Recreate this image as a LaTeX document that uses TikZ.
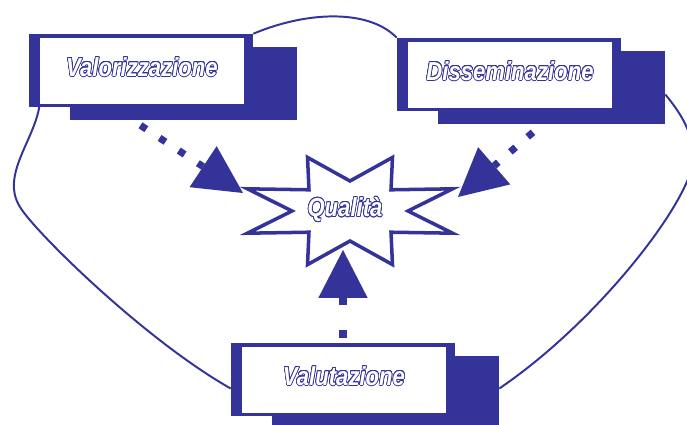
\documentclass[tikz,border=0pt]{standalone}
\usepackage{fontspec}
\setmainfont{Liberation Sans}
\usepackage{graphicx}
\usepackage{contour}
\contourlength{0.6pt}
\usepackage{tikz}
\usetikzlibrary{arrows.meta,calc,backgrounds}

\definecolor{qblue}{RGB}{51,51,153}
\newcommand{\hollow}[1]{\scalebox{0.85}[1]{\contour{qblue}{\textcolor{white}{#1}}}}

\begin{document}
\begin{tikzpicture}[
  x=0.025cm, y=-0.025cm,
  lbl/.style       = {font=\fontsize{18.5}{20}\selectfont\bfseries\itshape},
  shadowbox/.style = {rectangle, fill=qblue, inner sep=0pt,
                      minimum width=5.675cm, minimum height=1.825cm},
  framebox/.style  = {rectangle, fill=qblue, inner sep=0pt,
                      minimum width=5.6cm, minimum height=1.825cm},
  textbox/.style   = {rectangle, fill=white, inner sep=0pt, lbl, text depth=6pt,
                      minimum width=5.1cm, minimum height=1.65cm},
  link/.style      = {draw=qblue, line width=1.4pt},
  dotarr/.style    = {draw=qblue, line width=5pt, dash pattern=on 5pt off 11.3pt,
                      -{Triangle[length=34pt,width=35pt,line width=0pt]}},
  starline/.style  = {draw=qblue, line width=2.5pt, fill=white, line join=miter}
]
\useasboundingbox (0,0) rectangle (687,424);

%% Boxes
\node[shadowbox] (valS) at (183.5,83.5) {};
\node[framebox]  (valF) at (141,70.5)   {};
\node[textbox]   (valT) at (142,71)     {\hollow{Valorizzazione}};

\node[shadowbox] (disS) at (551.5,87.5) {};
\node[framebox]  (disF) at (509,74.5)   {};
\node[textbox]   (disT) at (510,75)     {\hollow{Disseminazione}};

\node[shadowbox] (vtS) at (385.5,392.5) {};
\node[framebox]  (vtF) at (343,379.5)   {};
\node[textbox]   (vtT) at (344,380)     {\hollow{Valutazione}\hspace{12pt}};

%% Star
\coordinate (qc) at (350,211);
\begin{scope}[shift={(qc)}]
  \draw[starline] (22.5:111 and 58)
    \foreach \a in {45,90,...,360} { -- (\a:58 and 30) -- (\a+22.5:111 and 58) } -- cycle;
\end{scope}
\node[lbl] (qual) at (345,210) {\hollow{Qualità}};

%% Dotted arrows
\coordinate (hitL) at (243,193);
\coordinate (hitR) at (458,197);
\coordinate (hitB) at (343,250);
\draw[dotarr] ([shift={(-43,5)}]valS.south) -- (hitL);
\draw[dotarr] ([shift={(-18.5,8)}]disS.south) -- (hitR);
\draw[dotarr, dash pattern=on 5.7pt off 17.7pt, dash phase=19.8pt] (vtF.north) -- (hitB);

%% Outline curves
\begin{scope}[on background layer]
  \draw[link] (valF.north east) .. controls (310,10) and (370,10) .. (disF.north west);
  \draw[link] (valT.south west) .. controls (35,140) and (0,175) .. (20,207)
              .. controls (35,232) and (145,340) .. ([shift={(0,9)}]vtF.west);
  \draw[link] ([shift={(0,7)}]disS.east) .. controls (680,112) and (695,135) .. (693,160)
              .. controls (691,200) and (600,320) .. ([shift={(0,-4)}]vtS.east);
\end{scope}
\end{tikzpicture}
\end{document}
